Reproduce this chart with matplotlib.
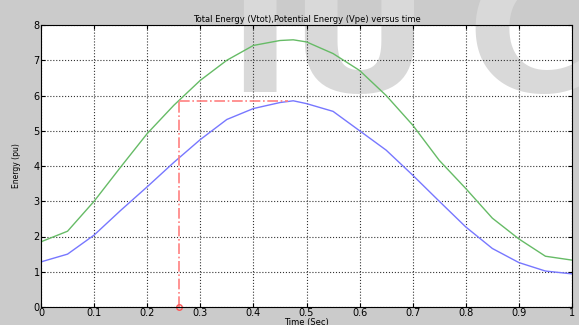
import matplotlib.pyplot as plt
from matplotlib.patches import Rectangle

t = [0, 0.05, 0.1, 0.15, 0.2, 0.25, 0.3, 0.35, 0.4, 0.45, 0.475, 0.5,
     0.55, 0.6, 0.65, 0.7, 0.75, 0.8, 0.85, 0.9, 0.95, 1.0]
vpe = [1.28, 1.50, 2.04, 2.74, 3.41, 4.10, 4.75, 5.32, 5.63, 5.80, 5.85, 5.77,
       5.55, 5.00, 4.45, 3.74, 3.00, 2.27, 1.66, 1.26, 1.02, 0.94]
vtot = [1.85, 2.15, 3.00, 3.97, 4.92, 5.72, 6.43, 7.00, 7.42, 7.56, 7.58, 7.52,
        7.19, 6.71, 6.00, 5.16, 4.16, 3.36, 2.52, 1.93, 1.44, 1.33]

t_mark = 0.26
v_mark = 5.85
t_peak = 0.465

W, H = 579, 325
fig = plt.figure(figsize=(5.79, 3.25), dpi=100, facecolor='#cbcbcb')
pos = [41 / W, 1 - 307 / H, 531 / W, 282 / H]
ax = fig.add_axes(pos)
ax.set_facecolor('none')

# white plot area + watermark behind the axes contents
fig.add_artist(Rectangle((pos[0], pos[1]), pos[2], pos[3], transform=fig.transFigure,
                         facecolor='white', edgecolor='none', zorder=-2))
for ch, xc in [("I", 259), ("U", 359), ("C", 530)]:
    fig.text(xc / W, 1 - 92 / H, ch, fontsize=125, fontweight='bold', color='#d9d9d9',
             ha='center', va='baseline', zorder=-1)

ax.plot(t, vtot, color='#66bb66', lw=1)
ax.plot(t, vpe, color='#7777ff', lw=1)
ax.plot([t_mark, t_mark], [0, v_mark], color='#ff8080', ls='-.', lw=1.2)
ax.plot([t_mark, t_peak], [v_mark, v_mark], color='#ff8080', ls='-.', lw=1.2)
ax.plot([t_mark], [0], 'o', mfc='none', mec='#ff5555', ms=4, clip_on=False)

ax.set_xlim(0, 1)
ax.set_ylim(0, 8)
ax.set_xticks([0, 0.1, 0.2, 0.3, 0.4, 0.5, 0.6, 0.7, 0.8, 0.9, 1])
ax.set_xticklabels(["0", "0.1", "0.2", "0.3", "0.4", "0.5", "0.6", "0.7", "0.8", "0.9", "1"])
ax.set_yticks(range(9))
ax.grid(True, color='#333333', ls=':', lw=0.8)
ax.tick_params(direction='in', top=True, right=True, labelsize=7, pad=1, length=3)
ax.set_title("Total Energy (Vtot),Potential Energy (Vpe) versus time", fontsize=6, pad=2)
ax.set_xlabel("Time (Sec)", fontsize=6, labelpad=0)
ax.set_ylabel("Energy (pu)", fontsize=5.5, labelpad=9)
for s in ax.spines.values():
    s.set_linewidth(0.8)

fig.savefig("out.png", dpi=100, facecolor=fig.get_facecolor())
